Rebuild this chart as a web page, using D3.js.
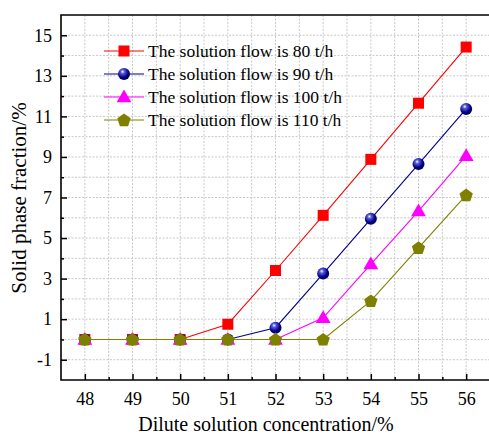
<!DOCTYPE html>
<html>
<head>
<meta charset="utf-8">
<script src="https://cdn.jsdelivr.net/npm/d3@7"></script>
<style>
  body { margin: 0; background: #fff; }
  svg { display: block; font-family: "Liberation Serif", "Times New Roman", serif; }
  .grid line { stroke: #c8c8c8; stroke-width: 1; stroke-dasharray: 2,1.5; }
</style>
</head>
<body>
<svg id="chart" width="489" height="435"></svg>
<script>
// concentration (%) on x
const concentration = [48, 49, 50, 51, 52, 53, 54, 55, 56];

// solid phase fraction (%) per solution flow
const flow80 = [0, 0, 0, 0.75, 3.4, 6.12, 8.88, 11.65, 14.42];
const flow90 = [0, 0, 0, 0, 0.58, 3.25, 5.95, 8.65, 11.37];
const flow100 = [0, 0, 0, 0, 0, 1.07, 3.72, 6.33, 9.06];
const flow110 = [0, 0, 0, 0, 0, 0, 1.9, 4.52, 7.12];

const seriesNames = [
  'The solution flow is 80 t/h',
  'The solution flow is 90 t/h',
  'The solution flow is 100 t/h',
  'The solution flow is 110 t/h'
];
const yTicks = [-1, 1, 3, 5, 7, 9, 11, 13, 15];

const series = [
  { name: seriesNames[0], values: flow80, color: '#ff0000', shape: 'square' },
  { name: seriesNames[1], values: flow90, color: '#00008b', shape: 'ball' },
  { name: seriesNames[2], values: flow100, color: '#ff00ff', shape: 'triangle' },
  { name: seriesNames[3], values: flow110, color: '#808000', shape: 'pentagon' }
];

const svg = d3.select('#chart');
const plot = { left: 61, right: 490, top: 15, bottom: 380 };

const x = d3.scaleLinear().domain([47.5, 56.5]).range([plot.left, plot.right]);
const y = d3.scaleLinear().domain([-2, 16]).range([plot.bottom, plot.top]);

// gradient for the blue balls
const defs = svg.append('defs');
const grad = defs.append('radialGradient')
  .attr('id', 'ball').attr('cx', '0.4').attr('cy', '0.35').attr('r', '0.65')
  .attr('fx', '0.38').attr('fy', '0.3');
grad.append('stop').attr('offset', '0').attr('stop-color', '#ffffff');
grad.append('stop').attr('offset', '0.25').attr('stop-color', '#5a5ad8');
grad.append('stop').attr('offset', '0.7').attr('stop-color', '#00008b');
grad.append('stop').attr('offset', '1').attr('stop-color', '#000050');

// grid
const grid = svg.append('g').attr('class', 'grid');
grid.selectAll('.gx')
  .data(d3.range(48, 56.51, 0.5))
  .join('line')
  .attr('x1', d => x(d)).attr('x2', d => x(d))
  .attr('y1', plot.top).attr('y2', plot.bottom);
grid.selectAll('.gy')
  .data(d3.range(-1, 16, 1))
  .join('line')
  .attr('x1', plot.left).attr('x2', plot.right)
  .attr('y1', d => y(d)).attr('y2', d => y(d));

// axes (ticks pointing inward)
const xAxis = svg.append('g')
  .attr('transform', `translate(0,${plot.bottom})`)
  .call(d3.axisBottom(x).tickValues(concentration).tickSize(-6).tickSizeOuter(0).tickPadding(12));
const xMinor = svg.append('g')
  .attr('transform', `translate(0,${plot.bottom})`)
  .call(d3.axisBottom(x).tickValues(d3.range(48.5, 56, 1)).tickSize(-3).tickFormat('').tickSizeOuter(0));

const yAxis = svg.append('g')
  .attr('transform', `translate(${plot.left},0)`)
  .call(d3.axisLeft(y).tickValues(yTicks).tickFormat(d => String(d)).tickSize(-6).tickSizeOuter(0).tickPadding(9));
const yMinor = svg.append('g')
  .attr('transform', `translate(${plot.left},0)`)
  .call(d3.axisLeft(y).tickValues(d3.range(0, 16, 2)).tickSize(-3).tickFormat('').tickSizeOuter(0));

[xAxis, xMinor, yAxis, yMinor].forEach(a => {
  a.select('.domain').remove();
  a.selectAll('line').attr('stroke', '#000').attr('stroke-width', 1.5);
  a.selectAll('text').attr('font-size', 18).attr('fill', '#000')
    .attr('font-family', '"Liberation Serif", serif');
});

// frame: left, bottom, top
svg.append('path')
  .attr('d', `M${plot.right},${plot.top}H${plot.left}V${plot.bottom}H${plot.right}`)
  .attr('fill', 'none').attr('stroke', '#000').attr('stroke-width', 1.6);

// axis titles
svg.append('text')
  .attr('x', 266).attr('y', 431)
  .attr('text-anchor', 'middle').attr('font-size', 20)
  .text('Dilute solution concentration/%');
svg.append('text')
  .attr('transform', `translate(26,198) rotate(-90)`)
  .attr('text-anchor', 'middle').attr('font-size', 21)
  .text('Solid phase fraction/%');

function drawMarker(g, shape, color, cx, cy) {
  if (shape === 'square') {
    g.append('rect').attr('x', cx - 5.5).attr('y', cy - 5.5)
      .attr('width', 11).attr('height', 11).attr('fill', color);
  } else if (shape === 'ball') {
    g.append('circle').attr('cx', cx).attr('cy', cy).attr('r', 6)
      .attr('fill', 'url(#ball)');
  } else if (shape === 'triangle') {
    g.append('path').attr('d', d3.symbol(d3.symbolTriangle, 95)())
      .attr('transform', `translate(${cx},${cy + 1})`).attr('fill', color);
  } else {
    const r = 7;
    const pts = d3.range(5).map(i => {
      const a = -Math.PI / 2 + i * 2 * Math.PI / 5;
      return [cx + r * Math.cos(a), cy + 0.5 + r * Math.sin(a)];
    });
    g.append('polygon').attr('points', pts.map(p => p.join(',')).join(' '))
      .attr('fill', color);
  }
}

const line = d3.line()
  .x((d, i) => x(concentration[i]))
  .y(d => y(d));

series.forEach(s => {
  const g = svg.append('g');
  g.append('path').datum(s.values)
    .attr('d', line).attr('fill', 'none')
    .attr('stroke', s.color).attr('stroke-width', 1.1);
  s.values.forEach((v, i) => drawMarker(g, s.shape, s.color, x(concentration[i]), y(v)));
});

// legend
const legend = svg.append('g');
series.forEach((s, i) => {
  const ly = 51 + i * 23;
  legend.append('line')
    .attr('x1', 104).attr('x2', 144).attr('y1', ly).attr('y2', ly)
    .attr('stroke', s.color).attr('stroke-width', 1.1);
  drawMarker(legend, s.shape, s.color, 124, ly);
  legend.append('text')
    .attr('x', 148).attr('y', ly + 6)
    .attr('font-size', 17.5)
    .text(s.name);
});
</script>
</body>
</html>
